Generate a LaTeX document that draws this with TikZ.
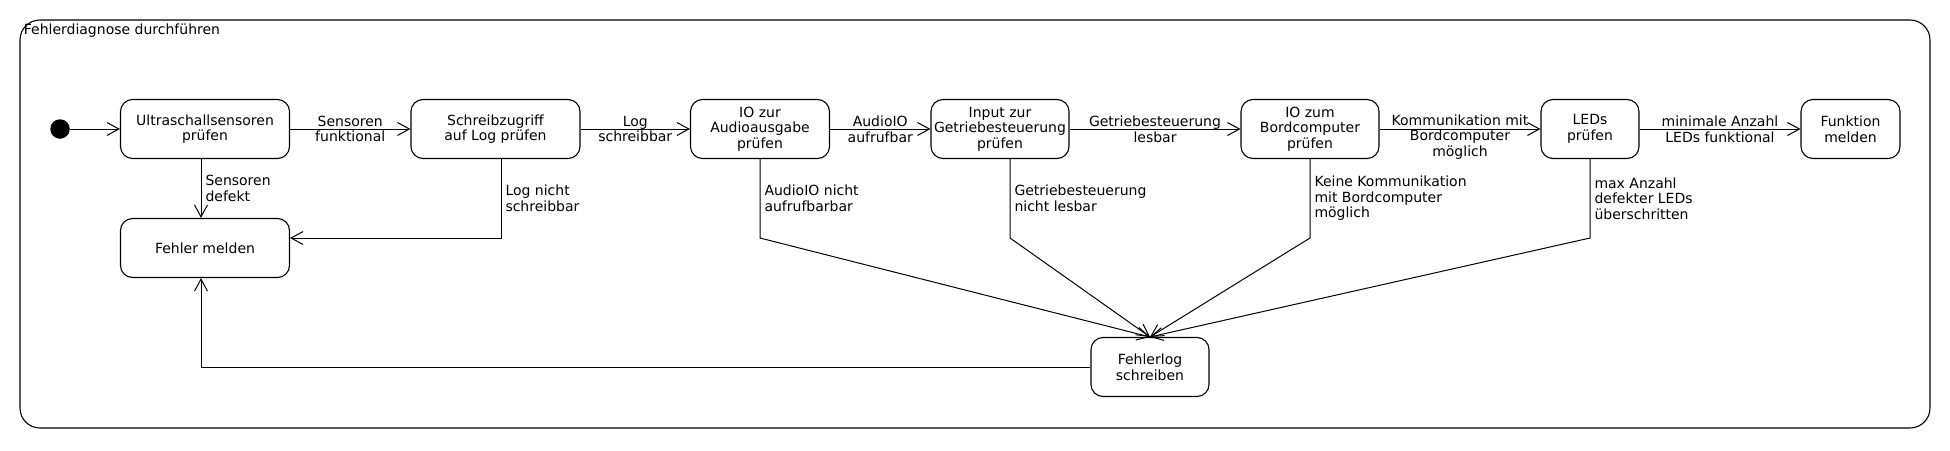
\documentclass[tikz,border=0pt]{standalone}
\usepackage{fontspec}
\setmainfont{DejaVu Sans}
\usetikzlibrary{arrows.meta}

\begin{document}
\begin{tikzpicture}[x=0.5pt,y=-0.5pt,
    every node/.style={font=\fontsize{7pt}{7.8pt}\selectfont, align=center},
    stateBox/.style={draw, rounded corners=6pt, line width=0.55pt, minimum height=29.5pt, inner sep=1.5pt, minimum width=#1*0.5pt},
    transition/.style={line width=0.5pt, -{Straight Barb[length=6pt,width=6.5pt]}},
    transLabel/.style={inner sep=2pt}]
    \useasboundingbox (0,0) rectangle (1950,450);
    % Outer state with its title
    \node[draw, rounded corners=10pt, line width=0.55pt, minimum width=955pt, minimum height=204pt] (diagnose) at (975,224) {};
    \node[anchor=north west, inner sep=2pt] (title) at (diagnose.north west) {Fehlerdiagnose durchführen};

    % Main row: {name, x, width, text}
    \foreach \stateName/\xPos/\boxWidth/\stateText in {
        ultra/205/169/{Ultraschallsensoren\\prüfen},
        schreib/495.5/169/{Schreibzugriff\\auf Log prüfen},
        audio/760/139/{IO zur\\Audioausgabe\\prüfen},
        getriebe/1000/138/{Input zur\\Getriebesteuerung\\prüfen},
        bord/1310/138/{IO zum\\Bordcomputer\\prüfen},
        leds/1590/98/{LEDs\\prüfen},
        funktion/1850.5/99/{Funktion\\melden}}{
        \node[stateBox=\boxWidth] (\stateName) at (\xPos,129) {\stateText};
    }
    \node[stateBox=169] (fehler) at (205,248) {Fehler melden};
    \node[stateBox=118] (fehlerlog) at (1150,367) {Fehlerlog\\schreiben};
    \node[circle, fill, inner sep=0pt, minimum size=9.75pt] (start) at (60,129) {};
    \coordinate (bendRow) at (0,238);% Row where the error lines bend

    \draw[transition] (start) -- (ultra);
    % Transitions along the main row: {from, to, label shift, label}
    \foreach \fromState/\toState/\labelShift/\labelText in {
        ultra/schreib/0/{Sensoren\\funktional},
        schreib/audio/0/{Log\\schreibbar},
        audio/getriebe/0/{AudioIO\\aufrufbar},
        getriebe/bord/0/{Getriebesteuerung\\lesbar},
        bord/leds/-3.9/{Kommunikation mit\\Bordcomputer\\möglich},
        leds/funktion/0/{minimale Anzahl\\LEDs funktional}}{
        \draw[transition] (\fromState) -- node[transLabel, yshift=\labelShift pt] {\labelText} (\toState);
    }

    % Errors that end in the error log: {from, line shift, label}
    \foreach \fromState/\lineShift/\labelText in {
        audio/0/{AudioIO nicht\\aufrufbarbar},
        getriebe/5/{Getriebesteuerung\\nicht lesbar},
        bord/0/{Keine Kommunikation\\mit Bordcomputer\\möglich},
        leds/0/{max Anzahl\\defekter LEDs\\überschritten}}{
        \draw[transition] ([xshift=\lineShift pt]\fromState.south) -- node[transLabel, right, align=left] {\labelText} ([xshift=\lineShift pt]\fromState.south |- bendRow) -- (fehlerlog.north);
    }

    % Errors that end in "Fehler melden"
    \draw[transition] ([xshift=-2pt]ultra.south) -- node[transLabel, right, align=left] {Sensoren\\defekt} ([xshift=-2pt]fehler.north);
    \draw[transition] ([xshift=2.75pt]schreib.south) |- node[pos=0.25, transLabel, right, align=left] {Log nicht\\schreibbar} (fehler.east |- bendRow);
    \draw[transition] (fehlerlog.west) -| ([xshift=-2pt]fehler.south);
\end{tikzpicture}
\end{document}
